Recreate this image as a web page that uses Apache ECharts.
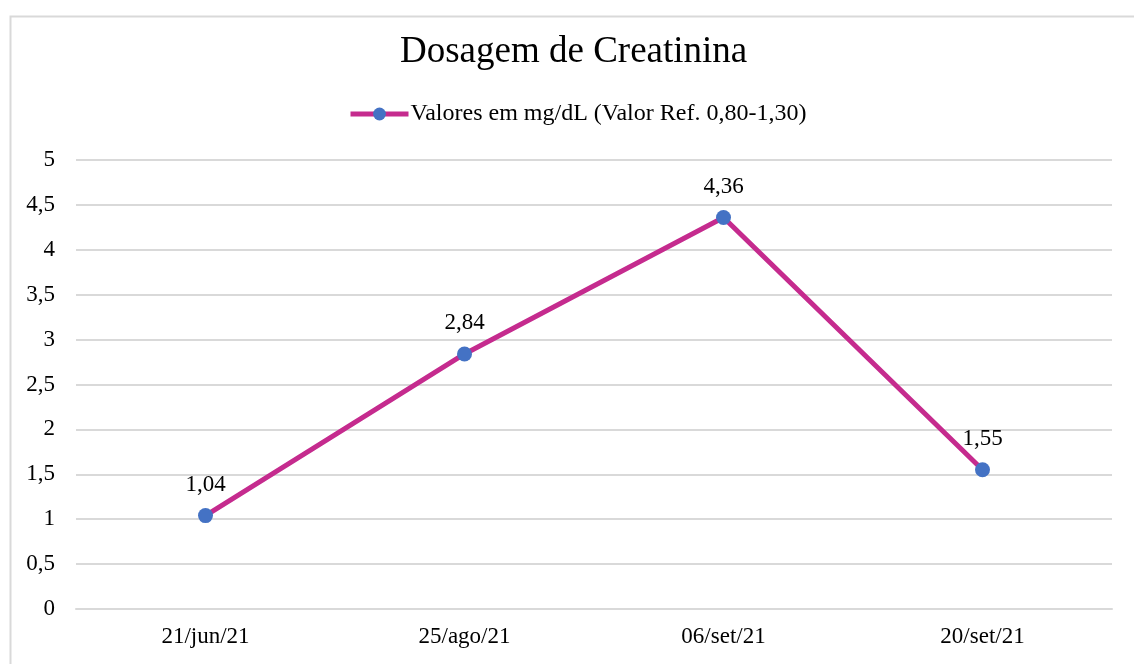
<!DOCTYPE html>
<html>
<head>
<meta charset="utf-8">
<script src="https://cdn.jsdelivr.net/npm/echarts@6/dist/echarts.min.js"></script>
<style>
  html, body { margin: 0; padding: 0; background: #fff; }
  #chart { width: 1134px; height: 664px; }
</style>
</head>
<body>
<div id="chart"></div>
<script>
(function () {
    'use strict';

    // exam dates and creatinine values (mg/dL)
    const dates = ['21/jun/21', '25/ago/21', '06/set/21', '20/set/21'];
    const creatinine = [1.04, 2.84, 4.36, 1.55];
    const seriesName = 'Valores em mg/dL (Valor Ref. 0,80-1,30)';

    const serif = '"Liberation Serif", "DejaVu Serif", serif';
    const commaNum = (v) => String(v).replace('.', ',');

    const chart = echarts.init(document.getElementById('chart'));

    chart.setOption({
        backgroundColor: '#fff',
        animation: false,
        textStyle: { fontFamily: serif },
        graphic: [{
            type: 'rect',
            shape: { x: 10.5, y: 16.5, width: 1140, height: 700 },
            style: { fill: 'none', stroke: '#d9d9d9', lineWidth: 2 }
        }],
        title: {
            text: 'Dosagem de Creatinina',
            left: 395,
            top: 29,
            textStyle: { fontFamily: serif, fontSize: 37, fontWeight: 'normal', color: '#000' }
        },
        legend: {
            top: 97,
            left: 343,
            itemWidth: 58,
            itemHeight: 16,
            itemGap: 4,
            lineStyle: { width: 5 },
            textStyle: { fontFamily: serif, fontSize: 24, color: '#000', padding: [0, 0, 0, -3] },
            data: [seriesName]
        },
        grid: { left: 76, right: 22, top: 160, bottom: 55 },
        xAxis: {
            type: 'category',
            data: dates,
            boundaryGap: true,
            axisLine: { lineStyle: { color: '#d9d9d9', width: 2 } },
            axisTick: { show: false },
            axisLabel: { fontFamily: serif, fontSize: 23, color: '#000', margin: 16 }
        },
        yAxis: {
            type: 'value',
            min: 0,
            max: 5,
            interval: 0.5,
            axisLine: { show: false },
            axisTick: { show: false },
            splitLine: { lineStyle: { color: '#d9d9d9', width: 2 } },
            axisLabel: {
                fontFamily: serif, fontSize: 23, color: '#000', margin: 21,
                formatter: (v) => commaNum(v)
            }
        },
        series: [{
            name: seriesName,
            type: 'line',
            data: creatinine,
            symbol: 'circle',
            symbolSize: 15,
            lineStyle: { color: '#C52B8E', width: 5 },
            itemStyle: { color: '#4472C4' },
            label: {
                show: true,
                position: 'top',
                distance: 12,
                fontFamily: serif,
                fontSize: 23,
                color: '#000',
                formatter: (p) => commaNum(p.value.toFixed(2))
            }
        }]
    });
}());
</script>
</body>
</html>
